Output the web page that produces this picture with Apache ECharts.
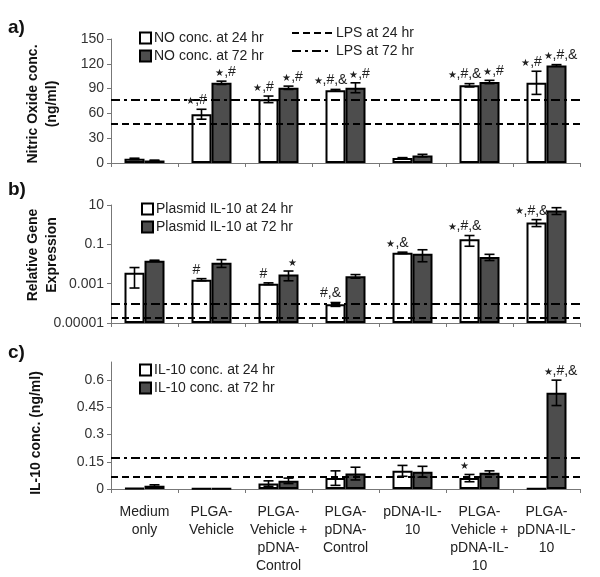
<!DOCTYPE html>
<html>
<head>
<meta charset="utf-8">
<script src="https://cdn.jsdelivr.net/npm/echarts@6/dist/echarts.min.js"></script>
<style>
html,body{margin:0;padding:0;background:#fff;}
#chart{width:600px;height:577px;}
</style>
</head>
<body>
<div id="chart"></div>
<script>
// ---------- DATA ----------
const categories = ['Medium\nonly', 'PLGA-\nVehicle', 'PLGA-\nVehicle +\npDNA-\nControl', 'PLGA-\npDNA-\nControl', 'pDNA-IL-\n10', 'PLGA-\nVehicle +\npDNA-IL-\n10', 'PLGA-\npDNA-IL-\n10'];

// Panel a: Nitric oxide (ng/ml)
const no24 = [5, 59, 77, 88, 6, 94, 97];
const no24Err = [0.8, 6, 4, 1, 0.5, 2, 14];
const no72 = [3, 97, 91, 91, 9, 98, 118];
const no72Err = [0.5, 2, 2, 6, 1.5, 2, 1];
const no24Ann = ['', '★,#', '★,#', '★,#,&', '', '★,#,&', '★,#'];
const no72Ann = ['', '★,#', '★,#', '★,#', '', '★,#', '★,#,&'];
const lpsA = [48, 77]; // LPS at 24 hr, LPS at 72 hr

// Panel b: Relative gene expression (log scale)
const ge24 = [0.0036, 0.0016, 0.001, 0.00009, 0.037, 0.18, 1.3];
const ge24Err = [0.003, 0.0002, 0.0001, 0.00002, 0.003, 0.1, 0.5];
const ge72 = [0.0146, 0.0117, 0.0029, 0.0024, 0.033, 0.023, 5.3];
const ge72Err = [0.001, 0.005, 0.0015, 0.0005, 0.02, 0.008, 2];
const ge24Ann = ['', '#', '#', '#,&', '★,&', '★,#,&', '★,#,&'];
const ge72Ann = ['', '', '★', '', '', '', ''];
const lpsB = [0.000018, 0.0001];
const geTicks = ['0.00001', '0.001', '0.1', '10'];

// Panel c: IL-10 (ng/ml)
const il24 = [0.005, 0.002, 0.03, 0.06, 0.1, 0.06, 0.002];
const il24Err = [0, 0, 0.015, 0.04, 0.03, 0.02, 0];
const il72 = [0.018, 0.002, 0.045, 0.085, 0.095, 0.09, 0.53];
const il72Err = [0.005, 0, 0.015, 0.035, 0.03, 0.01, 0.07];
const il24Ann = ['', '', '', '', '', '★', ''];
const il72Ann = ['', '', '', '', '', '', '★,#,&'];
const lpsC = [0.075, 0.17];
const lpsNames = ['LPS at 24 hr', 'LPS at 72 hr'];

// ---------- HELPERS ----------
const FONT = '"Liberation Sans", Arial, sans-serif';
const GRAY = '#4d4d4d';
const AXIS = '#777';
const BARW = 20;
const toLog = v => Math.log10(Math.max(v, 1e-5)) + 5;

function errData(vals, errs, anns, side, tf) {
  return vals.map((v, i) => {
    const e = errs[i];
    const lo = tf ? tf(v - e) : v - e;
    const hi = tf ? tf(v + e) : v + e;
    return {value: [i, lo, hi, side, e > 0 ? 1 : 0], ann: anns[i]};
  });
}

function makeErrSeries(idx, data) {
  return {
    type: 'custom', xAxisIndex: idx, yAxisIndex: idx, silent: true, z: 5,
    data: data,
    renderItem: function (params, api) {
      const c = api.value(0), lo = api.value(1), hi = api.value(2), side = api.value(3), has = api.value(4);
      const pHi = api.coord([c, hi]);
      const pLo = api.coord([c, lo]);
      const x = pHi[0] + side * BARW / 2;
      const children = [];
      const st = {stroke: '#000', lineWidth: 1.6};
      if (has) {
        children.push({type: 'line', shape: {x1: x, y1: pHi[1], x2: x, y2: pLo[1]}, style: st});
        children.push({type: 'line', shape: {x1: x - 5, y1: pHi[1], x2: x + 5, y2: pHi[1]}, style: st});
        children.push({type: 'line', shape: {x1: x - 5, y1: pLo[1], x2: x + 5, y2: pLo[1]}, style: st});
      }
      const ann = data[params.dataIndex].ann;
      if (ann) {
        const parts = ann.split('★');
        let txt = '';
        parts.forEach((p, k) => { if (k > 0) txt += '{s|★}'; if (p) txt += '{t|' + p + '}'; });
        children.push({
          type: 'text',
          style: {
            x: x + (side < 0 ? -5 : 4), y: pHi[1] - 2, text: txt, align: 'center', verticalAlign: 'bottom',
            rich: {
              s: {fontSize: 10, fill: '#222', fontFamily: FONT, verticalAlign: 'bottom', padding: [0, 0, 1, 0]},
              t: {fontSize: 14, fill: '#222', fontFamily: FONT}
            }
          }
        });
      }
      return {type: 'group', children: children};
    }
  };
}

function barSeries(name, idx, data, fill) {
  return {
    name: name, type: 'bar', xAxisIndex: idx, yAxisIndex: idx,
    data: data, barWidth: BARW, barGap: '0%',
    itemStyle: {color: fill, borderColor: '#000', borderWidth: 2},
    emphasis: {disabled: true}
  };
}

const DASH = [7, 4];
const DASHDOT = [9, 4, 3, 4];

function lpsSeries(name, idx, value, dash) {
  return {
    name: name, type: 'line', xAxisIndex: idx, yAxisIndex: idx,
    data: categories.map(() => null), symbol: 'none',
    lineStyle: {color: '#000', width: 2, type: dash},
    markLine: {
      silent: true, symbol: 'none', label: {show: false},
      lineStyle: {color: '#000', width: 2, type: dash},
      data: [{yAxis: value}]
    }
  };
}

const xAxisBase = (idx, showLabels) => ({
  type: 'category', gridIndex: idx, data: categories,
  axisLine: {lineStyle: {color: AXIS, width: 1}},
  axisTick: {show: true, length: 4, lineStyle: {color: AXIS}},
  axisLabel: {show: showLabels, interval: 0, color: '#222', fontSize: 14, fontFamily: FONT, lineHeight: 18, margin: 14, align: 'center'}
});

const yLabel = {color: '#333', fontSize: 14, fontFamily: FONT, margin: 7};
const yTick = {show: true, length: 4, lineStyle: {color: AXIS}};
const yLine = {show: true, lineStyle: {color: AXIS, width: 1}};
const legText = {fontSize: 14, color: '#222', fontFamily: FONT, padding: [0, 0, 0, -2]};

// LPS legend (drawn with graphic lines since it is a reference line legend)
const lpsLegend = [];
[[DASH, 33], [DASHDOT, 51]].forEach((d, k) => {
  lpsLegend.push({type: 'line', shape: {x1: 292, y1: d[1], x2: 332, y2: d[1]}, style: {stroke: '#000', lineWidth: 2, lineDash: d[0]}});
  lpsLegend.push({type: 'text', x: 336, y: d[1], style: {text: lpsNames[k], fontSize: 14, fill: '#222', fontFamily: FONT, verticalAlign: 'middle'}});
});

const option = {
  animation: false,
  backgroundColor: '#fff',
  textStyle: {fontFamily: FONT},
  grid: [
    {left: 111, top: 39, width: 469, height: 124},
    {left: 111, top: 205, width: 469, height: 118},
    {left: 111, top: 362, width: 469, height: 127}
  ],
  xAxis: [xAxisBase(0, false), xAxisBase(1, false), xAxisBase(2, true)],
  yAxis: [
    {type: 'value', gridIndex: 0, min: 0, max: 150, interval: 30, splitLine: {show: false},
      axisLine: yLine, axisTick: yTick, axisLabel: yLabel},
    {type: 'value', gridIndex: 1, min: 0, max: 6, interval: 2, splitLine: {show: false},
      axisLine: yLine, axisTick: yTick,
      axisLabel: Object.assign({}, yLabel, {formatter: v => geTicks[Math.round(v / 2)]})},
    {type: 'value', gridIndex: 2, min: 0, max: 0.7, splitLine: {show: false},
      axisLine: yLine,
      axisTick: Object.assign({}, yTick, {customValues: [0, 0.15, 0.3, 0.45, 0.6]}),
      axisLabel: Object.assign({}, yLabel, {customValues: [0, 0.15, 0.3, 0.45, 0.6]})}
  ],
  legend: [
    {orient: 'vertical', left: 134, top: 26, itemWidth: 11, itemHeight: 11, itemGap: 4, textStyle: legText,
      data: [{name: 'NO conc. at 24 hr', icon: 'rect'}, {name: 'NO conc. at 72 hr', icon: 'rect'}]},
    {orient: 'vertical', left: 136, top: 197, itemWidth: 11, itemHeight: 11, itemGap: 4, textStyle: legText,
      data: [{name: 'Plasmid IL-10 at 24 hr', icon: 'rect'}, {name: 'Plasmid IL-10 at 72 hr', icon: 'rect'}]},
    {orient: 'vertical', left: 134, top: 358, itemWidth: 11, itemHeight: 11, itemGap: 4, textStyle: legText,
      data: [{name: 'IL-10 conc. at 24 hr', icon: 'rect'}, {name: 'IL-10 conc. at 72 hr', icon: 'rect'}]}
  ],
  graphic: [
    {type: 'text', left: 8, top: 18, style: {text: 'a)', fontSize: 19, fontWeight: 'bold', fill: '#111', fontFamily: FONT}},
    {type: 'text', left: 8, top: 180, style: {text: 'b)', fontSize: 19, fontWeight: 'bold', fill: '#111', fontFamily: FONT}},
    {type: 'text', left: 8, top: 343, style: {text: 'c)', fontSize: 19, fontWeight: 'bold', fill: '#111', fontFamily: FONT}},
    {type: 'text', x: 43, y: 104, rotation: Math.PI / 2,
      style: {text: 'Nitric Oxide conc.\n(ng/ml)', align: 'center', verticalAlign: 'middle', fontSize: 14, lineHeight: 19, fontWeight: 'bold', fill: '#111', fontFamily: FONT}},
    {type: 'text', x: 43, y: 255, rotation: Math.PI / 2,
      style: {text: 'Relative Gene\nExpression', align: 'center', verticalAlign: 'middle', fontSize: 14, lineHeight: 19, fontWeight: 'bold', fill: '#111', fontFamily: FONT}},
    {type: 'text', x: 36, y: 433, rotation: Math.PI / 2,
      style: {text: 'IL-10 conc. (ng/ml)', align: 'center', verticalAlign: 'middle', fontSize: 14, fontWeight: 'bold', fill: '#111', fontFamily: FONT}},
    {type: 'group', children: lpsLegend}
  ],
  series: [
    barSeries('NO conc. at 24 hr', 0, no24, '#fff'),
    barSeries('NO conc. at 72 hr', 0, no72, GRAY),
    lpsSeries(lpsNames[0], 0, lpsA[0], DASH),
    lpsSeries(lpsNames[1], 0, lpsA[1], DASHDOT),
    makeErrSeries(0, errData(no24, no24Err, no24Ann, -1)),
    makeErrSeries(0, errData(no72, no72Err, no72Ann, 1)),

    barSeries('Plasmid IL-10 at 24 hr', 1, ge24.map(toLog), '#fff'),
    barSeries('Plasmid IL-10 at 72 hr', 1, ge72.map(toLog), GRAY),
    lpsSeries(lpsNames[0], 1, toLog(lpsB[0]), DASH),
    lpsSeries(lpsNames[1], 1, toLog(lpsB[1]), DASHDOT),
    makeErrSeries(1, errData(ge24, ge24Err, ge24Ann, -1, toLog)),
    makeErrSeries(1, errData(ge72, ge72Err, ge72Ann, 1, toLog)),

    barSeries('IL-10 conc. at 24 hr', 2, il24, '#fff'),
    barSeries('IL-10 conc. at 72 hr', 2, il72, GRAY),
    lpsSeries(lpsNames[0], 2, lpsC[0], DASH),
    lpsSeries(lpsNames[1], 2, lpsC[1], DASHDOT),
    makeErrSeries(2, errData(il24, il24Err, il24Ann, -1)),
    makeErrSeries(2, errData(il72, il72Err, il72Ann, 1))
  ]
};

const chart = echarts.init(document.getElementById('chart'), null, {renderer: 'canvas'});
chart.setOption(option);
</script>
</body>
</html>
